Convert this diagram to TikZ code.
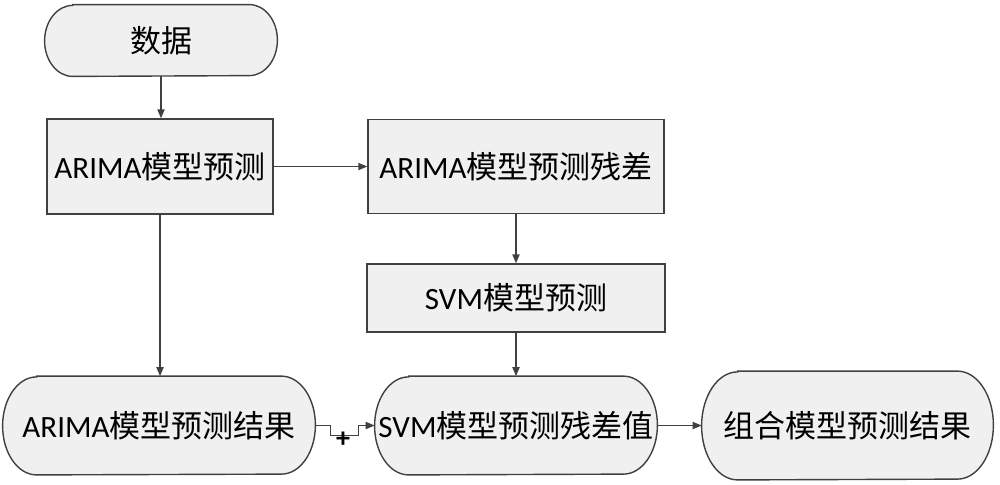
\documentclass[tikz,border=0pt]{standalone}
\usepackage{fontspec}
\setmainfont{Carlito}
\newfontfamily\cjk{Noto Sans CJK SC}
\usetikzlibrary{calc,arrows.meta,backgrounds}
\newcommand\zh[1]{{\cjk #1}}
\definecolor{linec}{HTML}{404040}
\definecolor{boxfill}{HTML}{F0F0F0}
% #1 node, #2 x radius, #3 y radius
\newcommand\stadium[3]{%
  \draw[stadline] ($(#1.north west)+(#2,0)$) -- ($(#1.north east)-(#2,0)$)
    arc[start angle=90,end angle=-90,x radius=#2,y radius=#3]
    -- ($(#1.south west)+(#2,0)$)
    arc[start angle=270,end angle=90,x radius=#2,y radius=#3] -- cycle;}
\begin{document}
\begin{tikzpicture}[x=0.5pt,y=0.5pt,
  every node/.style={font=\fontsize{15.5}{18}\selectfont, inner sep=0pt, text=black},
  rectbox/.style={draw=linec, fill=boxfill, line width=0.7pt},
  stadline/.style={draw=linec, fill=boxfill, line width=0.7pt},
  conn/.style={draw=linec, line width=0.7pt, -{Triangle[length=4.5pt,width=3.6pt]}},
  plusmark/.style={font=\fontsize{14}{14}\bfseries\selectfont},
]
\useasboundingbox (0,0) rectangle (1000,-484);

\node[minimum width=116pt, minimum height=35.5pt] (data) at (161,-40.5) {\zh{数据}};
\node[rectbox, minimum width=113pt, minimum height=47.5pt] (arima) at (160,-166.5) {ARIMA\zh{模型预测}};
\node[rectbox, minimum width=148pt, minimum height=47pt] (resid) at (516,-166.5) {ARIMA\zh{模型预测残差}};
\node[rectbox, minimum width=149pt, minimum height=34pt] (svm) at (516,-298) {SVM\zh{模型预测}};
\node[minimum width=156pt, minimum height=49pt] (ares) at (159,-425.5) {ARIMA\zh{模型预测结果}};
\node[minimum width=141pt, minimum height=49pt] (sres) at (516,-425.5) {SVM\zh{模型预测残差值}};
\node[minimum width=145.5pt, minimum height=54pt] (combo) at (847.5,-425.5) {\zh{组合模型预测结果}};

\begin{pgfonlayer}{background}
\stadium{data}{14pt}{17.75pt}
\stadium{ares}{17pt}{24.5pt}
\stadium{sres}{17pt}{24.5pt}
\stadium{combo}{18pt}{27pt}
\end{pgfonlayer}

\draw[conn] (data.south) -- (data.south |- arima.north);
\draw[conn] (arima.east) -- (resid.west);
\draw[conn] (arima.south) -- (arima.south |- ares.north);
\draw[conn] (resid.south) -- (svm.north);
\draw[conn] (svm.south) -- (sres.north);
\draw[conn] (ares.east) -- ++(15,0) -- ++(0,-10) -- ++(28,0) -- ++(0,10) -- (sres.west);
\draw[conn] (sres.east) -- (combo.west);
\node[plusmark] (plus) at (343,-440) {+};
\end{tikzpicture}
\end{document}
